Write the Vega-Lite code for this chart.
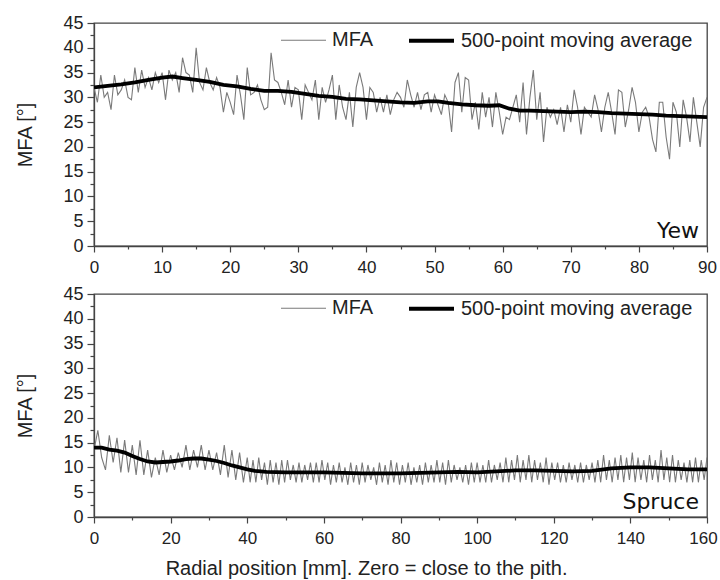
{
"$schema": "https://vega.github.io/schema/vega-lite/v6.json",
"padding": {"left": 15, "top": 13, "right": 6, "bottom": 0},
"config": {
  "font": "Liberation Sans",
  "view": {"stroke": "#444", "strokeWidth": 1.3},
  "concat": {"spacing": 7}
},
"title": {"text": "Radial position [mm]. Zero = close to the pith.", "orient": "bottom", "anchor": "middle", "fontSize": 20, "fontWeight": "normal", "color": "#222", "font": "Liberation Sans", "offset": 12},
"datasets": {
"yew": [
{"x":0,"v":32,"s":"MFA"},{"x":0.5,"v":29,"s":"MFA"},{"x":1,"v":34.5,"s":"MFA"},{"x":1.5,"v":30,"s":"MFA"},{"x":2,"v":31,"s":"MFA"},{"x":2.5,"v":27.5,"s":"MFA"},{"x":3,"v":34.5,"s":"MFA"},{"x":3.5,"v":30.5,"s":"MFA"},{"x":4,"v":31.5,"s":"MFA"},{"x":4.5,"v":33.5,"s":"MFA"},
{"x":5,"v":30,"s":"MFA"},{"x":5.5,"v":29.5,"s":"MFA"},{"x":6,"v":36,"s":"MFA"},{"x":6.5,"v":31,"s":"MFA"},{"x":7,"v":35.5,"s":"MFA"},{"x":7.5,"v":32,"s":"MFA"},{"x":8,"v":34,"s":"MFA"},{"x":8.5,"v":31.5,"s":"MFA"},{"x":9,"v":35,"s":"MFA"},{"x":9.5,"v":33,"s":"MFA"},
{"x":10,"v":35,"s":"MFA"},{"x":10.5,"v":29.5,"s":"MFA"},{"x":11,"v":35.5,"s":"MFA"},{"x":11.5,"v":33.5,"s":"MFA"},{"x":12,"v":35,"s":"MFA"},{"x":12.5,"v":31,"s":"MFA"},{"x":13,"v":38,"s":"MFA"},{"x":13.5,"v":35,"s":"MFA"},{"x":14,"v":34.5,"s":"MFA"},{"x":14.5,"v":31,"s":"MFA"},
{"x":15,"v":40,"s":"MFA"},{"x":15.5,"v":33,"s":"MFA"},{"x":16,"v":31.5,"s":"MFA"},{"x":16.5,"v":36,"s":"MFA"},{"x":17,"v":33,"s":"MFA"},{"x":17.5,"v":31.5,"s":"MFA"},{"x":18,"v":34,"s":"MFA"},{"x":18.5,"v":32,"s":"MFA"},{"x":19,"v":27,"s":"MFA"},{"x":19.5,"v":31,"s":"MFA"},
{"x":20,"v":29,"s":"MFA"},{"x":20.5,"v":26.5,"s":"MFA"},{"x":21,"v":34.5,"s":"MFA"},{"x":21.5,"v":30.5,"s":"MFA"},{"x":22,"v":25.5,"s":"MFA"},{"x":22.5,"v":36,"s":"MFA"},{"x":23,"v":30.5,"s":"MFA"},{"x":23.5,"v":31,"s":"MFA"},{"x":24,"v":32.5,"s":"MFA"},{"x":24.5,"v":29.5,"s":"MFA"},
{"x":25,"v":27.5,"s":"MFA"},{"x":25.5,"v":28,"s":"MFA"},{"x":26,"v":39,"s":"MFA"},{"x":26.5,"v":33.5,"s":"MFA"},{"x":27,"v":33,"s":"MFA"},{"x":27.5,"v":31,"s":"MFA"},{"x":28,"v":28.5,"s":"MFA"},{"x":28.5,"v":33.5,"s":"MFA"},{"x":29,"v":28,"s":"MFA"},{"x":29.5,"v":32,"s":"MFA"},
{"x":30,"v":31.5,"s":"MFA"},{"x":30.5,"v":25.5,"s":"MFA"},{"x":31,"v":32.5,"s":"MFA"},{"x":31.5,"v":31,"s":"MFA"},{"x":32,"v":29.5,"s":"MFA"},{"x":32.5,"v":33.5,"s":"MFA"},{"x":33,"v":25.5,"s":"MFA"},{"x":33.5,"v":32,"s":"MFA"},{"x":34,"v":29,"s":"MFA"},{"x":34.5,"v":31.5,"s":"MFA"},
{"x":35,"v":34.5,"s":"MFA"},{"x":35.5,"v":25.5,"s":"MFA"},{"x":36,"v":32.5,"s":"MFA"},{"x":36.5,"v":28,"s":"MFA"},{"x":37,"v":25.5,"s":"MFA"},{"x":37.5,"v":31,"s":"MFA"},{"x":38,"v":24,"s":"MFA"},{"x":38.5,"v":32,"s":"MFA"},{"x":39,"v":35,"s":"MFA"},{"x":39.5,"v":32,"s":"MFA"},
{"x":40,"v":25.5,"s":"MFA"},{"x":40.5,"v":32,"s":"MFA"},{"x":41,"v":31,"s":"MFA"},{"x":41.5,"v":27,"s":"MFA"},{"x":42,"v":30,"s":"MFA"},{"x":42.5,"v":27,"s":"MFA"},{"x":43,"v":30.5,"s":"MFA"},{"x":43.5,"v":26.5,"s":"MFA"},{"x":44,"v":29.5,"s":"MFA"},{"x":44.5,"v":31,"s":"MFA"},
{"x":45,"v":30,"s":"MFA"},{"x":45.5,"v":28,"s":"MFA"},{"x":46,"v":33.5,"s":"MFA"},{"x":46.5,"v":30.5,"s":"MFA"},{"x":47,"v":28,"s":"MFA"},{"x":47.5,"v":31,"s":"MFA"},{"x":48,"v":27.5,"s":"MFA"},{"x":48.5,"v":30.5,"s":"MFA"},{"x":49,"v":31,"s":"MFA"},{"x":49.5,"v":27,"s":"MFA"},
{"x":50,"v":30.5,"s":"MFA"},{"x":50.5,"v":28.5,"s":"MFA"},{"x":51,"v":26.5,"s":"MFA"},{"x":51.5,"v":30.5,"s":"MFA"},{"x":52,"v":29,"s":"MFA"},{"x":52.5,"v":23,"s":"MFA"},{"x":53,"v":33,"s":"MFA"},{"x":53.5,"v":35,"s":"MFA"},{"x":54,"v":27,"s":"MFA"},{"x":54.5,"v":34,"s":"MFA"},
{"x":55,"v":33.5,"s":"MFA"},{"x":55.5,"v":25.5,"s":"MFA"},{"x":56,"v":29,"s":"MFA"},{"x":56.5,"v":23.5,"s":"MFA"},{"x":57,"v":31,"s":"MFA"},{"x":57.5,"v":26,"s":"MFA"},{"x":58,"v":30,"s":"MFA"},{"x":58.5,"v":24,"s":"MFA"},{"x":59,"v":31,"s":"MFA"},{"x":59.5,"v":27,"s":"MFA"},
{"x":60,"v":22.5,"s":"MFA"},{"x":60.5,"v":26,"s":"MFA"},{"x":61,"v":25.5,"s":"MFA"},{"x":61.5,"v":28,"s":"MFA"},{"x":62,"v":30.5,"s":"MFA"},{"x":62.5,"v":25,"s":"MFA"},{"x":63,"v":33,"s":"MFA"},{"x":63.5,"v":22.5,"s":"MFA"},{"x":64,"v":30,"s":"MFA"},{"x":64.5,"v":35.5,"s":"MFA"},
{"x":65,"v":25.5,"s":"MFA"},{"x":65.5,"v":31,"s":"MFA"},{"x":66,"v":21,"s":"MFA"},{"x":66.5,"v":28,"s":"MFA"},{"x":67,"v":26,"s":"MFA"},{"x":67.5,"v":27.5,"s":"MFA"},{"x":68,"v":24.5,"s":"MFA"},{"x":68.5,"v":28,"s":"MFA"},{"x":69,"v":23,"s":"MFA"},{"x":69.5,"v":28.5,"s":"MFA"},
{"x":70,"v":25,"s":"MFA"},{"x":70.5,"v":31.5,"s":"MFA"},{"x":71,"v":28,"s":"MFA"},{"x":71.5,"v":22.5,"s":"MFA"},{"x":72,"v":28,"s":"MFA"},{"x":72.5,"v":27,"s":"MFA"},{"x":73,"v":26,"s":"MFA"},{"x":73.5,"v":30.5,"s":"MFA"},{"x":74,"v":27.5,"s":"MFA"},{"x":74.5,"v":23,"s":"MFA"},
{"x":75,"v":28,"s":"MFA"},{"x":75.5,"v":31,"s":"MFA"},{"x":76,"v":27,"s":"MFA"},{"x":76.5,"v":22.5,"s":"MFA"},{"x":77,"v":31.5,"s":"MFA"},{"x":77.5,"v":31,"s":"MFA"},{"x":78,"v":24,"s":"MFA"},{"x":78.5,"v":27.5,"s":"MFA"},{"x":79,"v":32,"s":"MFA"},{"x":79.5,"v":29,"s":"MFA"},
{"x":80,"v":23,"s":"MFA"},{"x":80.5,"v":27,"s":"MFA"},{"x":81,"v":28,"s":"MFA"},{"x":81.5,"v":26,"s":"MFA"},{"x":82,"v":21.5,"s":"MFA"},{"x":82.5,"v":19,"s":"MFA"},{"x":83,"v":29,"s":"MFA"},{"x":83.5,"v":29,"s":"MFA"},{"x":84,"v":22,"s":"MFA"},{"x":84.5,"v":17.5,"s":"MFA"},
{"x":85,"v":29,"s":"MFA"},{"x":85.5,"v":27,"s":"MFA"},{"x":86,"v":20,"s":"MFA"},{"x":86.5,"v":29.5,"s":"MFA"},{"x":87,"v":26,"s":"MFA"},{"x":87.5,"v":21,"s":"MFA"},{"x":88,"v":30,"s":"MFA"},{"x":88.5,"v":25,"s":"MFA"},{"x":89,"v":20,"s":"MFA"},{"x":89.5,"v":28,"s":"MFA"},{"x":90,"v":30,"s":"MFA"},
{"x":0,"v":32,"s":"500-point moving average"},{"x":2,"v":32.3,"s":"500-point moving average"},{"x":4,"v":32.6,"s":"500-point moving average"},{"x":6,"v":33,"s":"500-point moving average"},{"x":8,"v":33.5,"s":"500-point moving average"},{"x":10,"v":34,"s":"500-point moving average"},{"x":11.5,"v":34.2,"s":"500-point moving average"},{"x":13,"v":33.9,"s":"500-point moving average"},{"x":15,"v":33.5,"s":"500-point moving average"},{"x":17,"v":33.1,"s":"500-point moving average"},{"x":19,"v":32.5,"s":"500-point moving average"},{"x":21,"v":32.2,"s":"500-point moving average"},{"x":23,"v":31.7,"s":"500-point moving average"},{"x":25,"v":31.3,"s":"500-point moving average"},{"x":27,"v":31.3,"s":"500-point moving average"},{"x":29,"v":31.1,"s":"500-point moving average"},{"x":31,"v":30.7,"s":"500-point moving average"},{"x":33,"v":30.3,"s":"500-point moving average"},{"x":35,"v":30.1,"s":"500-point moving average"},{"x":37,"v":29.7,"s":"500-point moving average"},{"x":39,"v":29.6,"s":"500-point moving average"},{"x":41,"v":29.4,"s":"500-point moving average"},{"x":43,"v":29.2,"s":"500-point moving average"},{"x":45,"v":29,"s":"500-point moving average"},{"x":47,"v":28.9,"s":"500-point moving average"},{"x":49,"v":29.2,"s":"500-point moving average"},{"x":50.5,"v":29.2,"s":"500-point moving average"},{"x":52,"v":28.9,"s":"500-point moving average"},{"x":54,"v":28.6,"s":"500-point moving average"},{"x":56,"v":28.4,"s":"500-point moving average"},{"x":58,"v":28.3,"s":"500-point moving average"},{"x":59.5,"v":28.4,"s":"500-point moving average"},{"x":61,"v":27.7,"s":"500-point moving average"},{"x":62.5,"v":27.3,"s":"500-point moving average"},{"x":64,"v":27.3,"s":"500-point moving average"},{"x":66,"v":27.2,"s":"500-point moving average"},{"x":68,"v":27.1,"s":"500-point moving average"},{"x":70,"v":27,"s":"500-point moving average"},{"x":72,"v":27.1,"s":"500-point moving average"},{"x":74,"v":27,"s":"500-point moving average"},{"x":76,"v":26.8,"s":"500-point moving average"},{"x":78,"v":26.7,"s":"500-point moving average"},{"x":80,"v":26.6,"s":"500-point moving average"},{"x":82,"v":26.5,"s":"500-point moving average"},{"x":84,"v":26.3,"s":"500-point moving average"},{"x":86,"v":26.2,"s":"500-point moving average"},{"x":88,"v":26.1,"s":"500-point moving average"},{"x":90,"v":26,"s":"500-point moving average"}
],
"spruce": [
{"x":0,"v":13.5,"s":"MFA"},{"x":1,"v":17.5,"s":"MFA"},{"x":2,"v":12,"s":"MFA"},{"x":3,"v":9.5,"s":"MFA"},{"x":4,"v":16.5,"s":"MFA"},{"x":5,"v":11,"s":"MFA"},{"x":6,"v":16,"s":"MFA"},{"x":7,"v":9,"s":"MFA"},{"x":8,"v":15.5,"s":"MFA"},{"x":9,"v":9,"s":"MFA"},
{"x":10,"v":14.5,"s":"MFA"},{"x":11,"v":8.5,"s":"MFA"},{"x":12,"v":15.5,"s":"MFA"},{"x":13,"v":8.5,"s":"MFA"},{"x":14,"v":13.5,"s":"MFA"},{"x":15,"v":8,"s":"MFA"},{"x":16,"v":12,"s":"MFA"},{"x":17,"v":8.5,"s":"MFA"},{"x":18,"v":13.5,"s":"MFA"},{"x":19,"v":9,"s":"MFA"},
{"x":20,"v":12.5,"s":"MFA"},{"x":21,"v":9.5,"s":"MFA"},{"x":22,"v":13,"s":"MFA"},{"x":23,"v":10,"s":"MFA"},{"x":24,"v":14.5,"s":"MFA"},{"x":25,"v":9.5,"s":"MFA"},{"x":26,"v":13.5,"s":"MFA"},{"x":27,"v":10,"s":"MFA"},{"x":28,"v":14.5,"s":"MFA"},{"x":29,"v":9.5,"s":"MFA"},
{"x":30,"v":13.5,"s":"MFA"},{"x":31,"v":9.5,"s":"MFA"},{"x":32,"v":13,"s":"MFA"},{"x":33,"v":8.5,"s":"MFA"},{"x":34,"v":14.5,"s":"MFA"},{"x":35,"v":8,"s":"MFA"},{"x":36,"v":13.5,"s":"MFA"},{"x":37,"v":7.5,"s":"MFA"},{"x":38,"v":13,"s":"MFA"},{"x":39,"v":7,"s":"MFA"},
{"x":40,"v":12,"s":"MFA"},{"x":40.75,"v":7,"s":"MFA"},{"x":41.5,"v":11.5,"s":"MFA"},{"x":42.25,"v":7,"s":"MFA"},{"x":43,"v":12,"s":"MFA"},{"x":43.75,"v":7.5,"s":"MFA"},{"x":44.5,"v":11,"s":"MFA"},{"x":45.25,"v":6.5,"s":"MFA"},{"x":46,"v":11.5,"s":"MFA"},{"x":46.75,"v":7,"s":"MFA"},
{"x":47.5,"v":11,"s":"MFA"},{"x":48.25,"v":6.5,"s":"MFA"},{"x":49,"v":11.5,"s":"MFA"},{"x":49.75,"v":7,"s":"MFA"},{"x":50.5,"v":11.5,"s":"MFA"},{"x":51.25,"v":7.5,"s":"MFA"},{"x":52,"v":10.5,"s":"MFA"},{"x":52.75,"v":7,"s":"MFA"},{"x":53.5,"v":11,"s":"MFA"},{"x":54.25,"v":7,"s":"MFA"},
{"x":55,"v":10.5,"s":"MFA"},{"x":55.75,"v":7.5,"s":"MFA"},{"x":56.5,"v":11,"s":"MFA"},{"x":57.25,"v":7,"s":"MFA"},{"x":58,"v":11,"s":"MFA"},{"x":58.75,"v":7,"s":"MFA"},{"x":59.5,"v":11.5,"s":"MFA"},{"x":60.25,"v":7.5,"s":"MFA"},{"x":61,"v":11,"s":"MFA"},{"x":61.75,"v":6.5,"s":"MFA"},
{"x":62.5,"v":10.5,"s":"MFA"},{"x":63.25,"v":7,"s":"MFA"},{"x":64,"v":11,"s":"MFA"},{"x":64.75,"v":7,"s":"MFA"},{"x":65.5,"v":10,"s":"MFA"},{"x":66.25,"v":6.5,"s":"MFA"},{"x":67,"v":11,"s":"MFA"},{"x":67.75,"v":7,"s":"MFA"},{"x":68.5,"v":10.5,"s":"MFA"},{"x":69.25,"v":6.5,"s":"MFA"},
{"x":70,"v":11,"s":"MFA"},{"x":70.75,"v":7,"s":"MFA"},{"x":71.5,"v":10.5,"s":"MFA"},{"x":72.25,"v":7.5,"s":"MFA"},{"x":73,"v":10,"s":"MFA"},{"x":73.75,"v":6.5,"s":"MFA"},{"x":74.5,"v":11,"s":"MFA"},{"x":75.25,"v":7,"s":"MFA"},{"x":76,"v":10.5,"s":"MFA"},{"x":76.75,"v":6.5,"s":"MFA"},
{"x":77.5,"v":11.5,"s":"MFA"},{"x":78.25,"v":7,"s":"MFA"},{"x":79,"v":11,"s":"MFA"},{"x":79.75,"v":6.5,"s":"MFA"},{"x":80.5,"v":10.5,"s":"MFA"},{"x":81.25,"v":7,"s":"MFA"},{"x":82,"v":11,"s":"MFA"},{"x":82.75,"v":6.5,"s":"MFA"},{"x":83.5,"v":10,"s":"MFA"},{"x":84.25,"v":7,"s":"MFA"},
{"x":85,"v":10.5,"s":"MFA"},{"x":85.75,"v":6.5,"s":"MFA"},{"x":86.5,"v":11,"s":"MFA"},{"x":87.25,"v":7,"s":"MFA"},{"x":88,"v":10.5,"s":"MFA"},{"x":88.75,"v":7,"s":"MFA"},{"x":89.5,"v":11.5,"s":"MFA"},{"x":90.25,"v":7,"s":"MFA"},{"x":91,"v":11,"s":"MFA"},{"x":91.75,"v":6.5,"s":"MFA"},
{"x":92.5,"v":11.5,"s":"MFA"},{"x":93.25,"v":7,"s":"MFA"},{"x":94,"v":10.5,"s":"MFA"},{"x":94.75,"v":7.5,"s":"MFA"},{"x":95.5,"v":10,"s":"MFA"},{"x":96.25,"v":7,"s":"MFA"},{"x":97,"v":10.5,"s":"MFA"},{"x":97.75,"v":6.5,"s":"MFA"},{"x":98.5,"v":11,"s":"MFA"},{"x":99.25,"v":7,"s":"MFA"},
{"x":100,"v":11,"s":"MFA"},{"x":100.75,"v":7,"s":"MFA"},{"x":101.5,"v":10.5,"s":"MFA"},{"x":102.25,"v":7,"s":"MFA"},{"x":103,"v":11.5,"s":"MFA"},{"x":103.75,"v":7,"s":"MFA"},{"x":104.5,"v":10.5,"s":"MFA"},{"x":105.25,"v":7.5,"s":"MFA"},{"x":106,"v":11,"s":"MFA"},{"x":106.75,"v":7,"s":"MFA"},
{"x":107.5,"v":12,"s":"MFA"},{"x":108.25,"v":7,"s":"MFA"},{"x":109,"v":11.5,"s":"MFA"},{"x":109.75,"v":7.5,"s":"MFA"},{"x":110.5,"v":12.5,"s":"MFA"},{"x":111.25,"v":7,"s":"MFA"},{"x":112,"v":11.5,"s":"MFA"},{"x":112.75,"v":7.5,"s":"MFA"},{"x":113.5,"v":12.5,"s":"MFA"},{"x":114.25,"v":7,"s":"MFA"},
{"x":115,"v":11.5,"s":"MFA"},{"x":115.75,"v":7.5,"s":"MFA"},{"x":116.5,"v":11,"s":"MFA"},{"x":117.25,"v":7,"s":"MFA"},{"x":118,"v":12,"s":"MFA"},{"x":118.75,"v":6.5,"s":"MFA"},{"x":119.5,"v":11,"s":"MFA"},{"x":120.25,"v":7.5,"s":"MFA"},{"x":121,"v":11,"s":"MFA"},{"x":121.75,"v":7,"s":"MFA"},
{"x":122.5,"v":10.5,"s":"MFA"},{"x":123.25,"v":7,"s":"MFA"},{"x":124,"v":11,"s":"MFA"},{"x":124.75,"v":7.5,"s":"MFA"},{"x":125.5,"v":10.5,"s":"MFA"},{"x":126.25,"v":7,"s":"MFA"},{"x":127,"v":11,"s":"MFA"},{"x":127.75,"v":7,"s":"MFA"},{"x":128.5,"v":10.5,"s":"MFA"},{"x":129.25,"v":7.5,"s":"MFA"},
{"x":130,"v":11,"s":"MFA"},{"x":130.75,"v":7,"s":"MFA"},{"x":131.5,"v":11.5,"s":"MFA"},{"x":132.25,"v":7,"s":"MFA"},{"x":133,"v":12.5,"s":"MFA"},{"x":133.75,"v":7.5,"s":"MFA"},{"x":134.5,"v":11.5,"s":"MFA"},{"x":135.25,"v":7,"s":"MFA"},{"x":136,"v":12,"s":"MFA"},{"x":136.75,"v":7.5,"s":"MFA"},
{"x":137.5,"v":12.5,"s":"MFA"},{"x":138.25,"v":7,"s":"MFA"},{"x":139,"v":12,"s":"MFA"},{"x":139.75,"v":7.5,"s":"MFA"},{"x":140.5,"v":13,"s":"MFA"},{"x":141.25,"v":7,"s":"MFA"},{"x":142,"v":12,"s":"MFA"},{"x":142.75,"v":7.5,"s":"MFA"},{"x":143.5,"v":11.5,"s":"MFA"},{"x":144.25,"v":7,"s":"MFA"},
{"x":145,"v":12.5,"s":"MFA"},{"x":145.75,"v":7.5,"s":"MFA"},{"x":146.5,"v":11.5,"s":"MFA"},{"x":147.25,"v":7,"s":"MFA"},{"x":148,"v":13.5,"s":"MFA"},{"x":148.75,"v":7.5,"s":"MFA"},{"x":149.5,"v":12,"s":"MFA"},{"x":150.25,"v":7,"s":"MFA"},{"x":151,"v":12.5,"s":"MFA"},{"x":151.75,"v":7,"s":"MFA"},
{"x":152.5,"v":11.5,"s":"MFA"},{"x":153.25,"v":7.5,"s":"MFA"},{"x":154,"v":11,"s":"MFA"},{"x":154.75,"v":7,"s":"MFA"},{"x":155.5,"v":11.5,"s":"MFA"},{"x":156.25,"v":7,"s":"MFA"},{"x":157,"v":12,"s":"MFA"},{"x":157.75,"v":7,"s":"MFA"},{"x":158.5,"v":11.5,"s":"MFA"},{"x":159.25,"v":7.5,"s":"MFA"},{"x":160,"v":12,"s":"MFA"},
{"x":0,"v":14,"s":"500-point moving average"},{"x":2,"v":14,"s":"500-point moving average"},{"x":4,"v":13.6,"s":"500-point moving average"},{"x":6,"v":13.4,"s":"500-point moving average"},{"x":8,"v":13,"s":"500-point moving average"},{"x":10,"v":12.3,"s":"500-point moving average"},{"x":12,"v":11.7,"s":"500-point moving average"},{"x":14,"v":11.2,"s":"500-point moving average"},{"x":16,"v":11,"s":"500-point moving average"},{"x":18,"v":11.1,"s":"500-point moving average"},{"x":20,"v":11.2,"s":"500-point moving average"},{"x":22,"v":11.4,"s":"500-point moving average"},{"x":24,"v":11.7,"s":"500-point moving average"},{"x":26,"v":11.8,"s":"500-point moving average"},{"x":28,"v":11.8,"s":"500-point moving average"},{"x":30,"v":11.6,"s":"500-point moving average"},{"x":32,"v":11.3,"s":"500-point moving average"},{"x":34,"v":10.9,"s":"500-point moving average"},{"x":36,"v":10.4,"s":"500-point moving average"},{"x":38,"v":10,"s":"500-point moving average"},{"x":40,"v":9.6,"s":"500-point moving average"},{"x":42,"v":9.3,"s":"500-point moving average"},{"x":45,"v":9.1,"s":"500-point moving average"},{"x":50,"v":9,"s":"500-point moving average"},{"x":55,"v":9,"s":"500-point moving average"},{"x":60,"v":9,"s":"500-point moving average"},{"x":65,"v":8.9,"s":"500-point moving average"},{"x":70,"v":8.8,"s":"500-point moving average"},{"x":75,"v":8.8,"s":"500-point moving average"},{"x":80,"v":8.8,"s":"500-point moving average"},{"x":85,"v":8.9,"s":"500-point moving average"},{"x":90,"v":9,"s":"500-point moving average"},{"x":95,"v":9.1,"s":"500-point moving average"},{"x":100,"v":9,"s":"500-point moving average"},{"x":105,"v":9.2,"s":"500-point moving average"},{"x":110,"v":9.4,"s":"500-point moving average"},{"x":115,"v":9.4,"s":"500-point moving average"},{"x":120,"v":9.3,"s":"500-point moving average"},{"x":125,"v":9.2,"s":"500-point moving average"},{"x":130,"v":9.3,"s":"500-point moving average"},{"x":135,"v":9.8,"s":"500-point moving average"},{"x":140,"v":10,"s":"500-point moving average"},{"x":145,"v":10,"s":"500-point moving average"},{"x":150,"v":9.8,"s":"500-point moving average"},{"x":155,"v":9.6,"s":"500-point moving average"},{"x":160,"v":9.6,"s":"500-point moving average"}
]
},
"vconcat": [
{
  "width": 613, "height": 223,
  "data": {"name": "yew"},
  "encoding": {
    "x": {"field": "x", "type": "quantitative", "scale": {"domain": [0, 90], "nice": false}, "axis": {"title": null, "values": [0,5,10,15,20,25,30,35,40,45,50,55,60,65,70,75,80,85,90], "labelExpr": "datum.value % 10 === 0 ? datum.label : ''", "labelOverlap": false, "labelFlush": false, "labelFontSize": 17, "labelFont": "Liberation Sans", "labelColor": "#222", "labelPadding": 7, "domainColor": "#444", "domainWidth": 1.3, "tickColor": "#444", "tickWidth": 1.2, "grid": false, "tickSize": {"condition": {"test": "datum.value % 10 === 0", "value": 6}, "value": 3}}},
    "y": {"field": "v", "type": "quantitative", "scale": {"domain": [0, 45], "nice": false}, "axis": {"title": "MFA [°]", "titlePadding": 27, "titleFontSize": 20, "titleFont": "Liberation Sans", "titleFontWeight": "normal", "titleColor": "#222", "values": [0,2.5,5,7.5,10,12.5,15,17.5,20,22.5,25,27.5,30,32.5,35,37.5,40,42.5,45], "labelExpr": "datum.value % 5 === 0 ? datum.label : ''", "labelOverlap": false, "labelFlush": false, "labelFontSize": 18, "labelFont": "Liberation Sans", "labelColor": "#222", "labelPadding": 4, "domainColor": "#444", "domainWidth": 1.3, "tickColor": "#444", "tickWidth": 1.2, "grid": false, "tickSize": {"condition": {"test": "datum.value % 5 === 0", "value": 7}, "value": 4}}},
    "color": {"field": "s", "type": "nominal", "scale": {"domain": ["MFA", "500-point moving average"], "range": ["#7a7a7a", "#000000"]}, "legend": {"title": null, "orient": "none", "legendX": 186, "legendY": -7, "direction": "horizontal", "symbolType": "stroke", "symbolSize": 2025, "labelFontSize": 20, "labelFont": "Liberation Sans", "labelColor": "#222", "labelOffset": 5, "labelLimit": 400, "columnPadding": 27, "padding": 0}},
    "strokeWidth": {"field": "s", "type": "ordinal", "scale": {"domain": ["MFA", "500-point moving average"], "range": [1.1, 3.8]}, "legend": {"title": null, "orient": "none", "legendX": 186, "legendY": -7, "direction": "horizontal", "symbolType": "stroke", "symbolSize": 2025, "labelFontSize": 20, "labelFont": "Liberation Sans", "labelColor": "#222", "labelOffset": 5, "labelLimit": 400, "columnPadding": 27, "padding": 0}}
  },
  "layer": [
    {"transform": [{"filter": "datum.s === 'MFA'"}], "mark": {"type": "line", "clip": true}},
    {"transform": [{"filter": "datum.s !== 'MFA'"}], "mark": {"type": "line", "clip": true}},
    {
      "transform": [{"filter": "datum.x === 90 && datum.s !== 'MFA'"}],
      "mark": {"type": "text", "font": "DejaVu Sans", "fontSize": 22, "align": "right", "baseline": "alphabetic", "dx": -8, "dy": -8, "color": "#111", "text": "Yew"},
      "encoding": {
        "y": {"datum": 0, "type": "quantitative"},
        "color": {"value": "#111"},
        "strokeWidth": {"value": 0}
      }
    }
  ]
},
{
  "width": 613, "height": 223,
  "data": {"name": "spruce"},
  "encoding": {
    "x": {"field": "x", "type": "quantitative", "scale": {"domain": [0, 160], "nice": false}, "axis": {"title": null, "values": [0,10,20,30,40,50,60,70,80,90,100,110,120,130,140,150,160], "labelExpr": "datum.value % 20 === 0 ? datum.label : ''", "labelOverlap": false, "labelFlush": false, "labelFontSize": 17, "labelFont": "Liberation Sans", "labelColor": "#222", "labelPadding": 7, "labelOffset": {"condition": {"test": "datum.value === 160", "value": -4}, "value": 0}, "domainColor": "#444", "domainWidth": 1.3, "tickColor": "#444", "tickWidth": 1.2, "grid": false, "tickSize": {"condition": {"test": "datum.value % 20 === 0", "value": 6}, "value": 3}}},
    "y": {"field": "v", "type": "quantitative", "scale": {"domain": [0, 45], "nice": false}, "axis": {"title": "MFA [°]", "titlePadding": 27, "titleFontSize": 20, "titleFont": "Liberation Sans", "titleFontWeight": "normal", "titleColor": "#222", "values": [0,2.5,5,7.5,10,12.5,15,17.5,20,22.5,25,27.5,30,32.5,35,37.5,40,42.5,45], "labelExpr": "datum.value % 5 === 0 ? datum.label : ''", "labelOverlap": false, "labelFlush": false, "labelFontSize": 18, "labelFont": "Liberation Sans", "labelColor": "#222", "labelPadding": 4, "domainColor": "#444", "domainWidth": 1.3, "tickColor": "#444", "tickWidth": 1.2, "grid": false, "tickSize": {"condition": {"test": "datum.value % 5 === 0", "value": 7}, "value": 4}}},
    "color": {"field": "s", "type": "nominal", "scale": {"domain": ["MFA", "500-point moving average"], "range": ["#7a7a7a", "#000000"]}, "legend": {"title": null, "orient": "none", "legendX": 186, "legendY": -10, "direction": "horizontal", "symbolType": "stroke", "symbolSize": 2025, "labelFontSize": 20, "labelFont": "Liberation Sans", "labelColor": "#222", "labelOffset": 5, "labelLimit": 400, "columnPadding": 27, "padding": 0}},
    "strokeWidth": {"field": "s", "type": "ordinal", "scale": {"domain": ["MFA", "500-point moving average"], "range": [1.1, 3.8]}, "legend": {"title": null, "orient": "none", "legendX": 186, "legendY": -10, "direction": "horizontal", "symbolType": "stroke", "symbolSize": 2025, "labelFontSize": 20, "labelFont": "Liberation Sans", "labelColor": "#222", "labelOffset": 5, "labelLimit": 400, "columnPadding": 27, "padding": 0}}
  },
  "layer": [
    {"transform": [{"filter": "datum.s === 'MFA'"}], "mark": {"type": "line", "clip": true}},
    {"transform": [{"filter": "datum.s !== 'MFA'"}], "mark": {"type": "line", "clip": true}},
    {
      "transform": [{"filter": "datum.x === 160 && datum.s !== 'MFA'"}],
      "mark": {"type": "text", "font": "DejaVu Sans", "fontSize": 22, "align": "right", "baseline": "alphabetic", "dx": -8, "dy": -8, "color": "#111", "text": "Spruce"},
      "encoding": {
        "y": {"datum": 0, "type": "quantitative"},
        "color": {"value": "#111"},
        "strokeWidth": {"value": 0}
      }
    }
  ]
}
],
"resolve": {"scale": {"color": "independent", "strokeWidth": "independent"}, "legend": {"color": "independent", "strokeWidth": "independent"}}
}
